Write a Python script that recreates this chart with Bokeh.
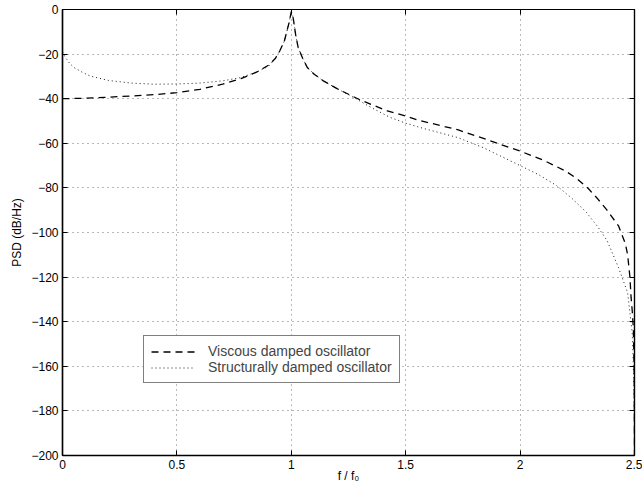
from bokeh.plotting import figure
from bokeh.models import LinearAxis, FixedTicker, Range1d, Legend, LegendItem
from bokeh.embed import file_html
from bokeh.resources import INLINE

# Data
viscous_x = [0.0, 0.1, 0.2, 0.3, 0.4, 0.5, 0.6, 0.7, 0.78, 0.85, 0.9, 0.93, 0.95, 0.97,
             0.98, 0.99, 1.0, 1.005, 1.01, 1.02, 1.03, 1.05, 1.07, 1.1, 1.14, 1.2, 1.25,
             1.3, 1.36, 1.42, 1.49, 1.55, 1.61, 1.67, 1.73, 1.8, 1.84, 1.9, 2.0, 2.1, 2.2,
             2.25, 2.3, 2.34, 2.38, 2.43, 2.46, 2.47, 2.48, 2.485, 2.49, 2.495, 2.499, 2.5]
viscous_y = [-40, -39.8, -39.3, -38.8, -38.2, -37.3, -35.8, -33.5, -31, -28, -25, -22, -18.5, -14,
             -10, -6, -1, -2, -5, -12, -17, -22, -26, -29, -32, -35.5, -38,
             -40.5, -43, -45.5, -47.5, -49.5, -51, -52.5, -54, -56.5, -57.8, -60, -63.5, -67.5, -72.5,
             -76, -80.5, -85, -90, -97, -105, -110, -120, -129, -135, -143, -165, -200]

struct_x = [0.0, 0.01, 0.03, 0.05, 0.08, 0.12, 0.2, 0.3, 0.4, 0.5, 0.6, 0.7, 0.78, 0.85, 0.9,
            0.93, 0.95, 0.97, 0.98, 0.99, 1.0, 1.005, 1.01, 1.02, 1.03, 1.05, 1.07, 1.1, 1.14,
            1.2, 1.27, 1.35, 1.43, 1.5, 1.58, 1.65, 1.73, 1.84, 1.92, 2.0, 2.08, 2.16, 2.23,
            2.29, 2.34, 2.38, 2.43, 2.47, 2.49, 2.495, 2.499, 2.5]
struct_y = [-19, -21, -24, -26, -27.8, -29.8, -31.8, -33, -33.5, -33.4, -33, -32, -30.5, -28, -25.5,
            -22, -18.5, -14, -10, -6, -1, -2, -5, -12, -17, -22, -26, -29, -32,
            -35.5, -39.3, -44, -48.3, -51, -53.4, -55.3, -57.5, -62, -66, -70, -74, -79, -85,
            -91, -97.5, -103.6, -115.7, -127, -145, -160, -180, -200]

x_ticks = [0, 0.5, 1, 1.5, 2, 2.5]
x_tick_labels = ["0", "0.5", "1", "1.5", "2", "2.5"]
y_ticks = [0, -20, -40, -60, -80, -100, -120, -140, -160, -180, -200]
y_tick_labels = ["0", "\u221220", "\u221240", "\u221260", "\u221280", "\u2212100", "\u2212120",
                 "\u2212140", "\u2212160", "\u2212180", "\u2212200"]

FONT = "Liberation Sans"

p = figure(width=642, height=492, output_backend="svg", toolbar_location=None,
           x_range=Range1d(0, 2.5), y_range=Range1d(-200, 0),
           min_border_left=62, min_border_right=8, min_border_top=9, min_border_bottom=37,
           x_axis_label="f / f\u2080", y_axis_label="PSD (dB/Hz)")
p.background_fill_color = "white"
p.border_fill_color = "white"
p.outline_line_color = "black"
p.outline_line_width = 1.2

r1 = p.line(viscous_x, viscous_y, line_color="black", line_width=1.3, line_dash="7 5")
r2 = p.line(struct_x, struct_y, line_color="black", line_width=0.9, line_dash="1 3")

for ax in (p.xaxis[0], p.yaxis[0]):
    ax.axis_line_color = "black"
    ax.axis_line_width = 1.5
    ax.major_tick_in = 5
    ax.major_tick_out = 0
    ax.minor_tick_line_color = None
    ax.major_label_text_font = FONT
    ax.major_label_text_font_size = "12px"
    ax.major_label_text_color = "black"
    ax.axis_label_text_font = FONT
    ax.axis_label_text_font_size = "12px"
    ax.axis_label_text_font_style = "normal"
    ax.axis_label_text_color = "black"

p.xaxis[0].ticker = FixedTicker(ticks=x_ticks)
p.xaxis[0].major_label_overrides = dict(zip(x_ticks, x_tick_labels))
p.xaxis[0].major_label_standoff = 4
p.xaxis[0].axis_label_standoff = -3
p.yaxis[0].ticker = FixedTicker(ticks=y_ticks)
p.yaxis[0].major_label_overrides = dict(zip(y_ticks, y_tick_labels))
p.yaxis[0].major_label_standoff = 4
p.yaxis[0].axis_label_standoff = 4

top = LinearAxis(ticker=FixedTicker(ticks=x_ticks), major_tick_in=5, major_tick_out=0,
                 minor_tick_line_color=None, major_label_text_font_size="1px",
                 major_label_text_color=None, axis_line_width=1.2, major_label_standoff=0)
right = LinearAxis(ticker=FixedTicker(ticks=y_ticks), major_tick_in=5, major_tick_out=0,
                   minor_tick_line_color=None, major_label_text_font_size="1px",
                   major_label_text_color=None, axis_line_width=1.2, major_label_standoff=0)
p.add_layout(top, "above")
p.add_layout(right, "right")

p.xgrid.ticker = FixedTicker(ticks=x_ticks)
p.ygrid.ticker = FixedTicker(ticks=y_ticks)
for g in (p.xgrid[0], p.ygrid[0]):
    g.grid_line_color = "black"
    g.grid_line_alpha = 0.55
    g.grid_line_dash = "1 4"
    g.grid_line_width = 1

legend = Legend(items=[LegendItem(label="Viscous damped oscillator", renderers=[r1]),
                       LegendItem(label="Structurally damped oscillator", renderers=[r2])],
                location=(81, 72))
legend.label_text_font = FONT
legend.label_text_font_size = "14px"
legend.label_height = 11
legend.glyph_height = 11
legend.glyph_width = 44
legend.label_standoff = 13
legend.padding = 7
legend.spacing = 0
legend.margin = 0
legend.border_line_color = "black"
legend.border_line_width = 1.5
legend.background_fill_color = "white"
legend.background_fill_alpha = 1
p.add_layout(legend)

open("out.html", "w").write(file_html(p, INLINE))
